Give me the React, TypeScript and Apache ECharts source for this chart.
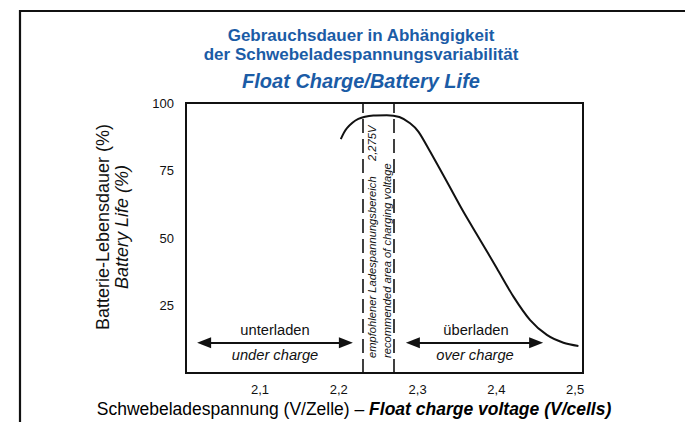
import React, { useEffect, useRef } from "react";
import * as echarts from "echarts";

const voltage = [2.2025, 2.2101, 2.2248, 2.2439, 2.2609, 2.2769, 2.2905, 2.301, 2.3159, 2.3371, 2.3582, 2.3794, 2.4006, 2.4217, 2.4429, 2.4641, 2.4852, 2.5042];
const life = [86.6, 90.6, 94.1, 95.4, 95.5, 94.8, 92.5, 89.4, 82.0, 70.9, 59.7, 49.3, 38.8, 28.3, 19.6, 14.1, 11.2, 10.0];
const xTicks = [2.1, 2.2, 2.3, 2.4, 2.5];
const yTicks = [25, 50, 75, 100];
const recommendedBand = [2.225, 2.275];
const underChargeRange = [2.029, 2.209];
const overChargeRange = [2.294, 2.4505];
const arrowLevel = 11.2;

const FONT = "'Liberation Sans', Arial, Helvetica, sans-serif";
const BLUE = "#1b5ca6";

export default function App() {
  const ref = useRef<HTMLDivElement>(null);
  useEffect(() => {
    if (!ref.current) return;
    const chart = echarts.init(ref.current, null, { renderer: "svg" });
    const arrowEnd = { symbol: "triangle", symbolSize: [11, 14] };
    const solid = { color: "#111", width: 2, type: "solid" };
    chart.setOption({
      animation: false,
      textStyle: { fontFamily: FONT },
      grid: {
        left: 186,
        top: 103,
        right: 102,
        bottom: 49,
        show: true,
        borderColor: "#111",
        borderWidth: 2,
        backgroundColor: "transparent",
      },
      xAxis: {
        type: "value",
        min: 2.006,
        max: 2.51,
        axisLine: { show: false },
        axisTick: { show: false },
        splitLine: { show: false },
        axisLabel: {
          customValues: xTicks,
          color: "#111",
          fontSize: 13,
          fontFamily: FONT,
          margin: 10,
          formatter: (v: number) => v.toFixed(1).replace(".", ","),
        },
      },
      yAxis: {
        type: "value",
        min: 0,
        max: 100,
        interval: 25,
        axisLine: { show: false },
        axisTick: { show: false },
        splitLine: { show: false },
        axisLabel: {
          customValues: yTicks,
          color: "#111",
          fontSize: 13,
          fontFamily: FONT,
          margin: 12,
          formatter: (v: number) => (yTicks.includes(v) ? String(v) : ""),
        },
      },
      series: [
        {
          type: "line",
          data: voltage.map((v, i) => [v, life[i]]),
          smooth: 0.3,
          showSymbol: false,
          symbol: "none",
          lineStyle: { color: "#111", width: 2 },
          markLine: {
            silent: true,
            symbol: "none",
            label: { show: false },
            data: [
              ...recommendedBand.map((x) => ({
                xAxis: x,
                lineStyle: { color: "#111", width: 1.6, type: [14, 6] },
              })),
              [
                { coord: [underChargeRange[0], arrowLevel], ...arrowEnd, lineStyle: solid },
                { coord: [underChargeRange[1], arrowLevel], ...arrowEnd },
              ],
              [
                { coord: [overChargeRange[0], arrowLevel], ...arrowEnd, lineStyle: solid },
                { coord: [overChargeRange[1], arrowLevel], ...arrowEnd },
              ],
            ],
          },
        },
      ],
      graphic: [
        {
          type: "rect",
          shape: { x: 20, y: 11, width: 720, height: 460 },
          style: { fill: "none", stroke: "#111", lineWidth: 2.2 },
          silent: true,
        },
        {
          type: "text",
          x: 361,
          y: 35,
          style: { text: "Gebrauchsdauer in Abhängigkeit", fill: BLUE, font: `bold 17px ${FONT}`, align: "center", verticalAlign: "middle" },
        },
        {
          type: "text",
          x: 361,
          y: 54,
          style: { text: "der Schwebeladespannungsvariabilität", fill: BLUE, font: `bold 17px ${FONT}`, align: "center", verticalAlign: "middle" },
        },
        {
          type: "text",
          x: 361,
          y: 81,
          style: { text: "Float Charge/Battery Life", fill: BLUE, font: `italic bold 20px ${FONT}`, align: "center", verticalAlign: "middle" },
        },
        {
          type: "text",
          x: 103,
          y: 227,
          rotation: Math.PI / 2,
          style: { text: "Batterie-Lebensdauer (%)", fill: "#111", font: `18px ${FONT}`, align: "center", verticalAlign: "middle" },
        },
        {
          type: "text",
          x: 122,
          y: 227,
          rotation: Math.PI / 2,
          style: { text: "Battery Life (%)", fill: "#111", font: `italic 18px ${FONT}`, align: "center", verticalAlign: "middle" },
        },
        {
          type: "text",
          x: 354,
          y: 409,
          style: {
            text: "{a|Schwebeladespannung (V/Zelle) – }{b|Float charge voltage (V/cells)}",
            align: "center",
            verticalAlign: "middle",
            rich: {
              a: { fontFamily: FONT, fontSize: 17.5, color: "#111" },
              b: { fontFamily: FONT, fontSize: 17.5, fontWeight: "bold", fontStyle: "italic", color: "#111" },
            },
          },
        },
        {
          type: "text",
          x: 275,
          y: 330,
          style: { text: "unterladen", fill: "#111", font: `14.7px ${FONT}`, align: "center", verticalAlign: "middle" },
        },
        {
          type: "text",
          x: 275,
          y: 355,
          style: { text: "under charge", fill: "#111", font: `italic 14.7px ${FONT}`, align: "center", verticalAlign: "middle" },
        },
        {
          type: "text",
          x: 476,
          y: 330,
          style: { text: "überladen", fill: "#111", font: `14.7px ${FONT}`, align: "center", verticalAlign: "middle" },
        },
        {
          type: "text",
          x: 475,
          y: 355,
          style: { text: "over charge", fill: "#111", font: `italic 14.7px ${FONT}`, align: "center", verticalAlign: "middle" },
        },
        {
          type: "text",
          x: 372,
          y: 358,
          rotation: Math.PI / 2,
          style: { text: "empfohlener Ladespannungsbereich", fill: "#111", font: `italic 11.2px ${FONT}`, align: "left", verticalAlign: "middle" },
        },
        {
          type: "text",
          x: 372,
          y: 161,
          rotation: Math.PI / 2,
          style: { text: "2,275V", fill: "#111", font: `italic 11.2px ${FONT}`, align: "left", verticalAlign: "middle" },
        },
        {
          type: "text",
          x: 386.5,
          y: 358,
          rotation: Math.PI / 2,
          style: { text: "recommended area of charging voltage", fill: "#111", font: `italic 11.2px ${FONT}`, align: "left", verticalAlign: "middle" },
        },
      ],
    });
    return () => chart.dispose();
  }, []);
  return <div ref={ref} style={{ position: "fixed", left: 0, top: 0, width: 685, height: 422, background: "#fff" }} />;
}
